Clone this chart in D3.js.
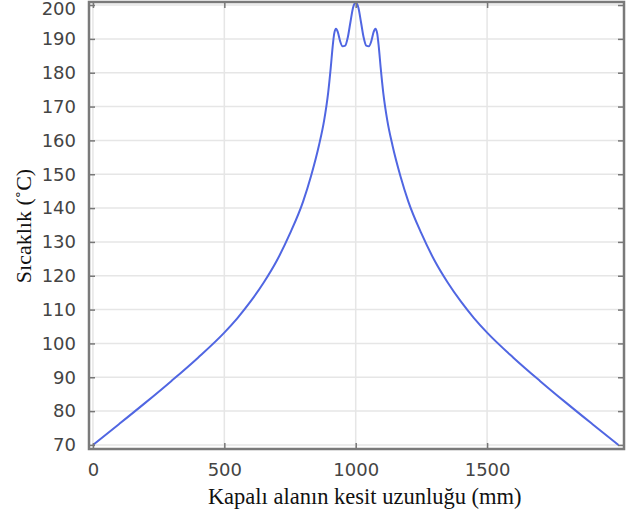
<!DOCTYPE html>
<html>
<head>
<meta charset="utf-8">
<script src="https://cdn.jsdelivr.net/npm/d3@7"></script>
<style>
  html, body { margin: 0; padding: 0; background: #fff; }
</style>
</head>
<body>
<svg id="chart"></svg>
<script>
// cross-section position (mm) and temperature (°C)
const positions = [
  0, 100, 200, 300, 400, 500, 550, 600, 650, 700, 750, 800, 830, 860, 880, 895,
  905, 912, 918, 925, 932, 940, 950, 960, 970, 980, 990, 1000,
  1010, 1020, 1030, 1040, 1050, 1060, 1068, 1075, 1082, 1088, 1095, 1105, 1120,
  1140, 1170, 1200, 1250, 1300, 1350, 1400, 1450, 1500, 1600, 1700, 1800, 1900, 2000
];
const temperatures = [
  70, 76.2, 82.5, 89, 95.8, 103.2, 107.5, 112.4, 118, 124.5, 132.5, 142, 149.5, 158.5, 166, 174,
  181.5, 187.5, 191.5, 193, 192, 189.5, 187.8, 188, 190.5, 195, 199.3, 200.7,
  199.3, 195, 190.5, 188, 187.8, 189.5, 192, 193, 191.5, 187.5, 181.5, 174, 166,
  158.5, 149.5, 142, 132.5, 124.5, 118, 112.4, 107.5, 103.2, 95.8, 89, 82.5, 76.2, 70
];
const xTicks = [0, 500, 1000, 1500];
const yTicks = [70, 80, 90, 100, 110, 120, 130, 140, 150, 160, 170, 180, 190, 200];
const xTitle = "Kapalı alanın kesit uzunluğu (mm)";
const yTitle = "Sıcaklık (˚C)";

const width = 641;
const height = 517;
const margin = { top: 2, right: 17, bottom: 68, left: 89 };
const innerWidth = width - margin.left - margin.right;
const innerHeight = height - margin.top - margin.bottom;

const data = positions.map((x, i) => ({ x, t: temperatures[i] }));

const svg = d3.select("#chart")
  .attr("width", width)
  .attr("height", height);

const g = svg.append("g")
  .attr("transform", `translate(${margin.left},${margin.top})`);

const xScale = d3.scaleLinear().domain([-15, 2021]).range([0, innerWidth]);
const yScale = d3.scaleLinear().domain([68.8, 200.9]).range([innerHeight, 0]);

// grid
g.append("g")
  .selectAll("line")
  .data(yTicks)
  .join("line")
  .attr("x1", 0).attr("x2", innerWidth)
  .attr("y1", d => yScale(d)).attr("y2", d => yScale(d))
  .attr("stroke", "#e6e6e6").attr("stroke-width", 1.5);
g.append("g")
  .selectAll("line")
  .data(xTicks)
  .join("line")
  .attr("y1", 0).attr("y2", innerHeight)
  .attr("x1", d => xScale(d)).attr("x2", d => xScale(d))
  .attr("stroke", "#e6e6e6").attr("stroke-width", 1.5);

// curve
const line = d3.line()
  .x(d => xScale(d.x))
  .y(d => yScale(d.t))
  .curve(d3.curveMonotoneX);

g.append("path")
  .datum(data)
  .attr("fill", "none")
  .attr("stroke", "#5066e2")
  .attr("stroke-width", 2)
  .attr("d", line);

// axes (ticks point inward)
const tickStyle = sel => {
  sel.select(".domain").remove();
  sel.selectAll(".tick line").attr("stroke", "#777").attr("stroke-width", 1.5);
  sel.selectAll(".tick text")
    .attr("fill", "#444")
    .style("font-family", "DejaVu Sans, sans-serif")
    .style("font-size", "18px");
};

g.append("g")
  .attr("transform", `translate(0,${innerHeight})`)
  .call(d3.axisBottom(xScale).tickValues(xTicks).tickSize(-6).tickPadding(14).tickFormat(d3.format("d")))
  .call(tickStyle);

g.append("g")
  .call(d3.axisTop(xScale).tickValues(xTicks).tickSize(-6))
  .call(tickStyle)
  .call(a => a.selectAll(".tick text").remove());

const yAxisG = g.append("g")
  .call(d3.axisLeft(yScale).tickValues(yTicks).tickSize(-6).tickPadding(13).tickFormat(d3.format("d")))
  .call(tickStyle);
// the top label sits against the edge, keep it inside the page
yAxisG.selectAll(".tick text").filter(d => d === 200).attr("dy", "0.5em");

g.append("g")
  .attr("transform", `translate(${innerWidth},0)`)
  .call(d3.axisRight(yScale).tickValues(yTicks).tickSize(-6))
  .call(tickStyle)
  .call(a => a.selectAll(".tick text").remove());

// frame
g.append("rect")
  .attr("x", 0).attr("y", 0)
  .attr("width", innerWidth).attr("height", innerHeight)
  .attr("fill", "none")
  .attr("stroke", "#7a7a7a")
  .attr("stroke-width", 2.5);

// titles
svg.append("text")
  .attr("x", margin.left + xScale(1000) + 9)
  .attr("y", 504)
  .attr("text-anchor", "middle")
  .attr("fill", "#111")
  .style("font-family", "Liberation Serif, Times New Roman, serif")
  .style("font-size", "22.5px")
  .text(xTitle);

svg.append("text")
  .attr("transform", `translate(31,${226}) rotate(-90)`)
  .attr("text-anchor", "middle")
  .attr("fill", "#111")
  .style("font-family", "Liberation Serif, Times New Roman, serif")
  .style("font-size", "22px")
  .text(yTitle);
</script>
</body>
</html>
